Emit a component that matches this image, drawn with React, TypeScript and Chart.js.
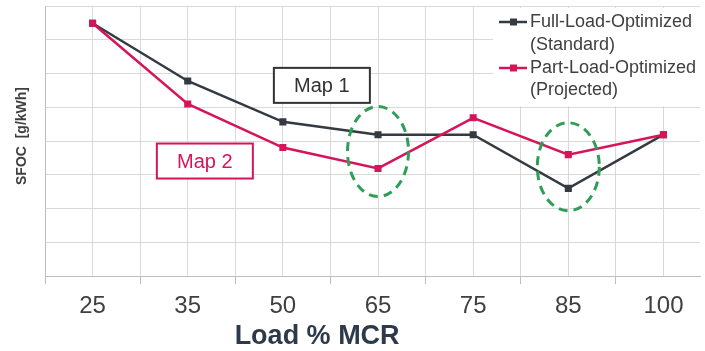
import React, { useEffect, useRef } from 'react';
import { Chart, registerables } from 'chart.js';

Chart.register(...registerables);

const categories = ['25', '35', '50', '65', '75', '85', '100'];
const fullLoad = [7.49, 5.78, 4.57, 4.19, 4.19, 2.6, 4.19];
const partLoad = [7.49, 5.1, 3.81, 3.19, 4.69, 3.6, 4.19];
const legendLabels = [
  ['Full-Load-Optimized', '(Standard)'],
  ['Part-Load-Optimized', '(Projected)'],
];
const xTitle = 'Load % MCR';
const yTitle = 'SFOC  [g/kWh]';

const DARK = '#343a42';
const RED = '#d6145a';
const GREEN = '#2f9e57';
const FONT = '"Liberation Sans", Arial, sans-serif';

const overlay = {
  id: 'overlay',
  afterDraw(chart: any) {
    const { ctx, scales } = chart;
    const x = scales.x;
    const y = scales.y;
    ctx.save();

    // dashed ellipses around 65 and 85
    const ellipses = [
      { cx: 3, cy: 3.69, rx: 30.5, ry: 45 },
      { cx: 5, cy: 3.24, rx: 31, ry: 44 },
    ];
    ctx.setLineDash([9, 6]);
    ctx.lineWidth = 3;
    ctx.strokeStyle = GREEN;
    for (const e of ellipses) {
      ctx.beginPath();
      ctx.ellipse(x.getPixelForValue(e.cx), y.getPixelForValue(e.cy), e.rx, e.ry, 0, 0, Math.PI * 2);
      ctx.stroke();
    }
    ctx.setLineDash([]);

    // Map boxes
    const boxes = [
      { text: 'Map 1', cx: 2.41, cy: 5.65, color: '#333333' },
      { text: 'Map 2', cx: 1.18, cy: 3.41, color: RED },
    ];
    for (const b of boxes) {
      const px = x.getPixelForValue(b.cx);
      const py = y.getPixelForValue(b.cy);
      const w = 96;
      const h = 35;
      ctx.fillStyle = '#ffffff';
      ctx.fillRect(px - w / 2, py - h / 2, w, h);
      ctx.lineWidth = 2;
      ctx.strokeStyle = b.color;
      ctx.strokeRect(px - w / 2, py - h / 2, w, h);
      ctx.fillStyle = b.color;
      ctx.font = `20px ${FONT}`;
      ctx.textAlign = 'center';
      ctx.textBaseline = 'middle';
      ctx.fillText(b.text, px, py + 1);
    }

    // Legend
    const lx = 493;
    const ly = 8;
    ctx.fillStyle = '#ffffff';
    ctx.fillRect(lx, ly, chart.width - lx, 98);
    const colors = [DARK, RED];
    const rows = [[22, 45], [68, 90]];
    ctx.font = `18px ${FONT}`;
    ctx.textAlign = 'left';
    ctx.textBaseline = 'middle';
    legendLabels.forEach((lines, i) => {
      const yy = rows[i][0];
      ctx.strokeStyle = colors[i];
      ctx.lineWidth = 2.5;
      ctx.beginPath();
      ctx.moveTo(499, yy);
      ctx.lineTo(527, yy);
      ctx.stroke();
      ctx.fillStyle = colors[i];
      ctx.fillRect(510, yy - 3.5, 7, 7);
      ctx.fillStyle = '#404040';
      ctx.fillText(lines[0], 530, yy);
      ctx.fillText(lines[1], 530, rows[i][1]);
    });

    // Axis titles
    ctx.fillStyle = '#2c3a4b';
    ctx.font = `bold 27px ${FONT}`;
    ctx.textAlign = 'center';
    ctx.textBaseline = 'middle';
    ctx.fillText(xTitle, x.getPixelForValue(2.36), chart.height - 14);

    ctx.save();
    ctx.translate(22, 136);
    ctx.rotate(-Math.PI / 2);
    ctx.fillStyle = '#404040';
    ctx.font = `bold 14px ${FONT}`;
    ctx.fillText(yTitle, 0, 0);
    ctx.restore();

    ctx.restore();
  },
};

export default function App() {
  const ref = useRef<HTMLCanvasElement>(null);
  useEffect(() => {
    document.body.style.margin = '0';
    Chart.defaults.font.family = FONT;
    const chart = new Chart(ref.current!, {
      type: 'line',
      data: {
        datasets: [
          {
            label: 'Part-Load-Optimized (Projected)',
            data: partLoad.map((v, i) => ({ x: i, y: v })),
            borderColor: RED,
            backgroundColor: RED,
            borderWidth: 2.5,
            pointStyle: 'rect',
            pointRadius: 5,
            pointBorderWidth: 0,
            order: 0,
          },
          {
            label: 'Full-Load-Optimized (Standard)',
            data: fullLoad.map((v, i) => ({ x: i, y: v })),
            borderColor: DARK,
            backgroundColor: DARK,
            borderWidth: 2.5,
            pointStyle: 'rect',
            pointRadius: 5,
            pointBorderWidth: 0,
            order: 1,
          },
        ],
      },
      options: {
        responsive: false,
        animation: false,
        layout: { padding: { left: 45, top: 6, right: 0, bottom: 22 } },
        plugins: { legend: { display: false }, tooltip: { enabled: false } },
        scales: {
          x: {
            type: 'linear',
            min: -0.5,
            max: 6.384,
            afterBuildTicks: (axis: any) => {
              const t = [];
              for (let v = -0.5; v <= 6.01; v += 0.5) t.push({ value: v });
              axis.ticks = t;
            },
            ticks: {
              autoSkip: false,
              maxRotation: 0,
              padding: 8,
              color: '#404040',
              font: { size: 24 },
              callback: (value: any) => (Number.isInteger(value) ? categories[value] : ''),
            },
            grid: {
              color: '#d9d9d9',
              tickLength: 8,
              tickColor: (ctx: any) =>
                ctx.tick && Number.isInteger(ctx.tick.value) ? 'rgba(0,0,0,0)' : '#bfbfbf',
            },
            border: { color: '#bfbfbf' },
          },
          y: {
            min: 0,
            max: 8,
            ticks: { display: false, stepSize: 1 },
            grid: { color: '#d9d9d9', drawTicks: false },
            border: { color: '#bfbfbf' },
          },
        },
      },
      plugins: [overlay],
    });
    return () => chart.destroy();
  }, []);
  return (
    <div style={{ width: 705, height: 351 }}>
      <canvas ref={ref} width={705} height={351} />
    </div>
  );
}
